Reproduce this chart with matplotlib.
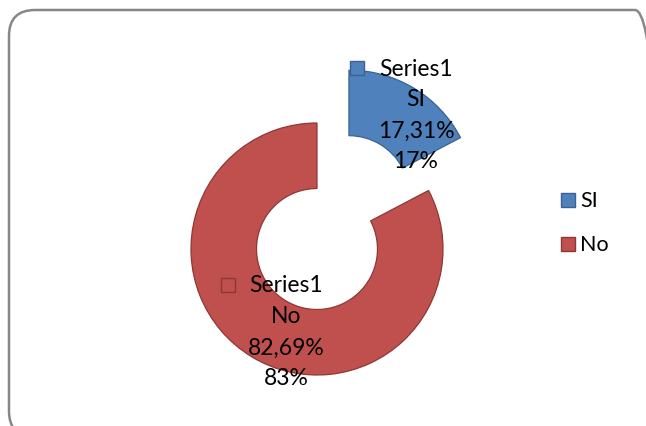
import matplotlib
matplotlib.use("Agg")
import matplotlib.pyplot as plt
from matplotlib.patches import FancyBboxPatch, Rectangle

categories = ["SI", "No"]
shares = [17.31, 82.69]
series_name = "Series1"
fills = ["#4F81BD", "#C0504D"]
edges = ["#3A6390", "#8C3836"]

W, H = 646, 427
plt.rcParams["font.family"] = ["Lato", "DejaVu Sans"]

fig = plt.figure(figsize=(W / 100, H / 100), dpi=100)
ax = fig.add_axes([0, 0, 1, 1])

# doughnut, first slice pulled out along its bisector (explode is in data units here)
cx, cy, r = 317, H - 250, 126
wedges, _ = ax.pie(
    shares,
    colors=fills,
    explode=[r * 0.49, 0],
    startangle=90,
    counterclock=False,
    radius=r,
    center=(cx, cy),
    wedgeprops=dict(width=r * 0.52, linewidth=0.9),
)
for w, ec in zip(wedges, edges):
    w.set_edgecolor(ec)

ax.set_xlim(0, W)
ax.set_ylim(0, H)
ax.set_aspect("auto")
ax.axis("off")


def fmt(v, decimals):
    return f"{v:.{decimals}f}".replace(".", ",") + "%"


def key_box(x, y, i, size):
    ax.add_patch(Rectangle((x - size / 2, y - size / 2), size, size,
                           facecolor=fills[i], edgecolor=edges[i], lw=1.0))


# data labels: key, series name, category, percentage, rounded percentage
label_spots = [(416, 69, 357), (286, 286, 228)]
pitch = 31
for i, (tx, ty, kx) in enumerate(label_spots):
    lines = [series_name, categories[i], fmt(shares[i], 2), fmt(shares[i], 0)]
    for k, line in enumerate(lines):
        ax.text(tx, H - (ty + k * pitch), line, ha="center", va="center",
                fontsize=16.5, color="black")
    key_box(kx, H - ty, i, 14)

# legend on the right
for i, (cat, ly) in enumerate(zip(categories, [201, 245])):
    key_box(568, H - ly, i, 14)
    ax.text(580, H - ly, cat, ha="left", va="center", fontsize=15.5,
            color="black")

# rounded chart frame, running off the right and bottom edges
frame = FancyBboxPatch((9, H - 438), 652, 427,
                       boxstyle="round,pad=0,rounding_size=26",
                       facecolor="none", edgecolor="#878787", lw=1.8,
                       clip_on=False)
ax.add_patch(frame)

fig.savefig("out.png", dpi=100)
